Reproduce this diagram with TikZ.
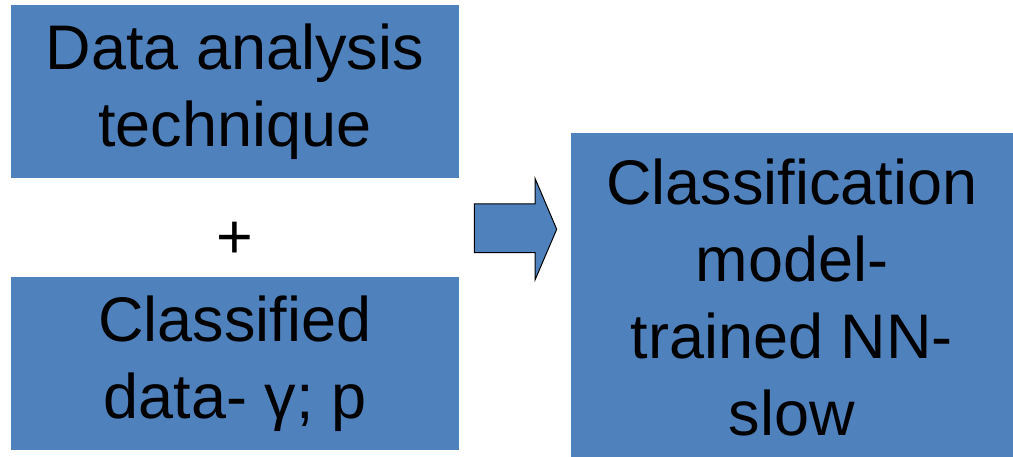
\documentclass[tikz,border=0pt]{standalone}
\usepackage{fontspec}
\setmainfont{Liberation Sans}
\definecolor{boxblue}{HTML}{4F81BD}
\begin{document}
\begin{tikzpicture}[x=1pt,y=-1pt,
  bluebox/.style={fill=boxblue, draw=none, inner sep=0pt, align=center,
    font=\fontsize{63}{77}\selectfont, text=black}]
\useasboundingbox (0,0) rectangle (1013,457);
\fill[boxblue] (11,5) rectangle (459,178);
\node[bluebox, fill=none] (a) at (235,91.5) {Data analysis\\technique};
\fill[boxblue] (11,277) rectangle (459,450);
\node[bluebox, fill=none] (b) at (235,363.5) {Classified\\data- γ; p};
\fill[boxblue] (571,133) rectangle (1013,457);
\node[bluebox, fill=none] (c) at (792,297) {Classification\\model-\\trained NN-\\slow};
\node[font=\fontsize{63}{77}\selectfont] (plus) at (235,240) {+};
\draw[fill=boxblue, draw=black, line width=1pt, line join=miter]
  (474.3,204) -- (535,204) -- (535,178.3) -- (556.7,229.3) -- (535,280) -- (535,252.7) -- (474.3,252.7) -- cycle;
\end{tikzpicture}
\end{document}
